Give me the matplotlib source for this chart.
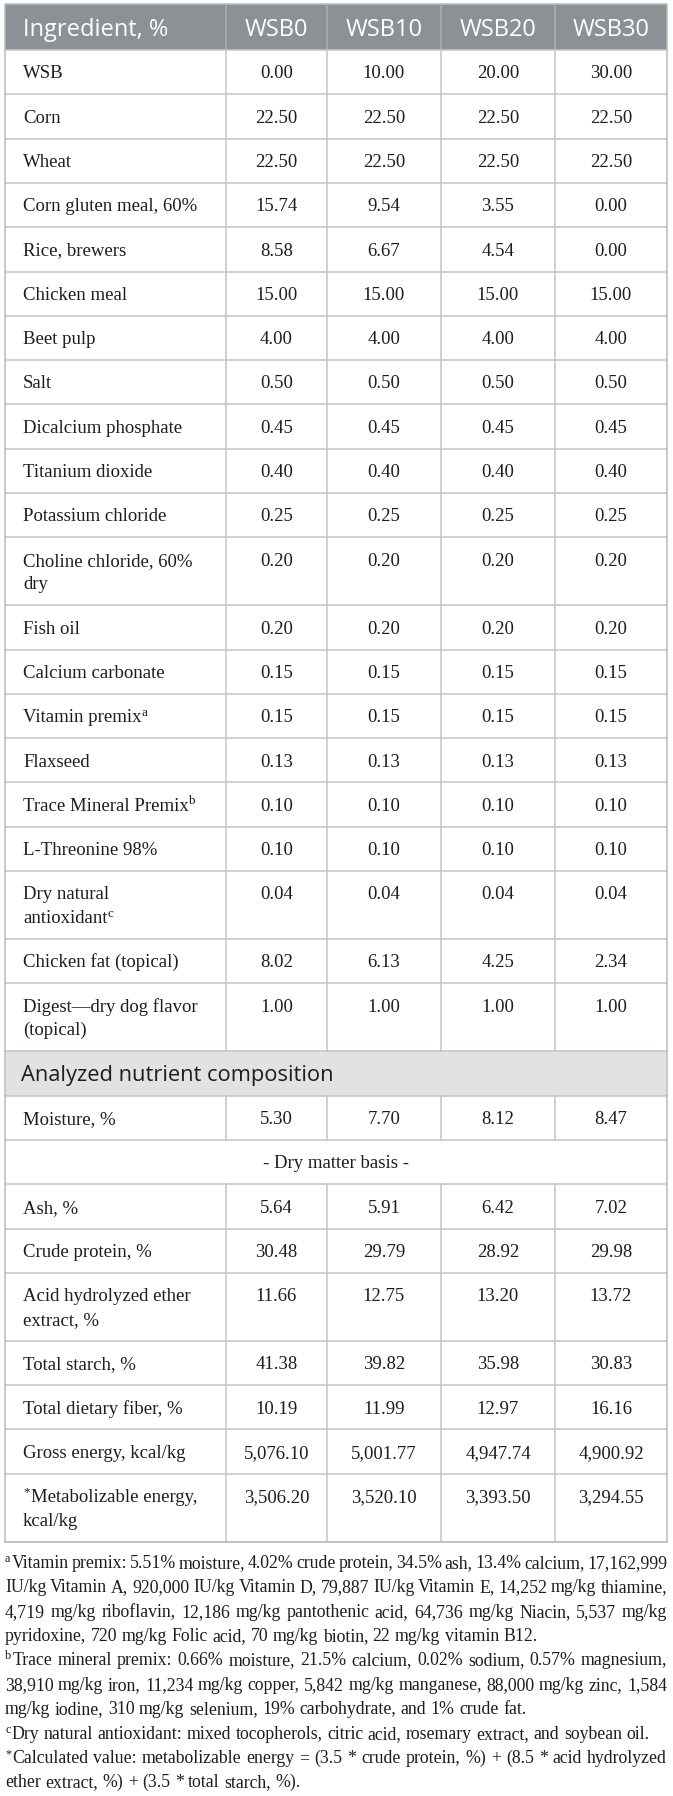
import re
import matplotlib
matplotlib.use("Agg")
import matplotlib.pyplot as plt
from matplotlib.patches import Rectangle

# ---------------- data ----------------
columns = ["WSB0", "WSB10", "WSB20", "WSB30"]
header_label = "Ingredient, %"

ingredients = [
    "WSB", "Corn", "Wheat", "Corn gluten meal, 60%", "Rice, brewers",
    "Chicken meal", "Beet pulp", "Salt", "Dicalcium phosphate",
    "Titanium dioxide", "Potassium chloride", "Choline chloride, 60%\ndry",
    "Fish oil", "Calcium carbonate", "Vitamin premix^{a}", "Flaxseed",
    "Trace Mineral Premix^{b}", "L-Threonine 98%",
    "Dry natural\nantioxidant^{c}", "Chicken fat (topical)",
    "Digest\u2014dry dog flavor\n(topical)",
]
ing_wsb0 = [0.00, 22.50, 22.50, 15.74, 8.58, 15.00, 4.00, 0.50, 0.45, 0.40,
            0.25, 0.20, 0.20, 0.15, 0.15, 0.13, 0.10, 0.10, 0.04, 8.02, 1.00]
ing_wsb10 = [10.00, 22.50, 22.50, 9.54, 6.67, 15.00, 4.00, 0.50, 0.45, 0.40,
             0.25, 0.20, 0.20, 0.15, 0.15, 0.13, 0.10, 0.10, 0.04, 6.13, 1.00]
ing_wsb20 = [20.00, 22.50, 22.50, 3.55, 4.54, 15.00, 4.00, 0.50, 0.45, 0.40,
             0.25, 0.20, 0.20, 0.15, 0.15, 0.13, 0.10, 0.10, 0.04, 4.25, 1.00]
ing_wsb30 = [30.00, 22.50, 22.50, 0.00, 0.00, 15.00, 4.00, 0.50, 0.45, 0.40,
             0.25, 0.20, 0.20, 0.15, 0.15, 0.13, 0.10, 0.10, 0.04, 2.34, 1.00]

section_title = "Analyzed nutrient composition"
moisture_label = "Moisture, %"
moisture_vals = [5.30, 7.70, 8.12, 8.47]
dm_label = "- Dry matter basis -"

nutrients = [
    "Ash, %", "Crude protein, %", "Acid hydrolyzed ether\nextract, %",
    "Total starch, %", "Total dietary fiber, %", "Gross energy, kcal/kg",
    "^{*}Metabolizable energy,\nkcal/kg",
]
nut_wsb0 = [5.64, 30.48, 11.66, 41.38, 10.19, 5076.10, 3506.20]
nut_wsb10 = [5.91, 29.79, 12.75, 39.82, 11.99, 5001.77, 3520.10]
nut_wsb20 = [6.42, 28.92, 13.20, 35.98, 12.97, 4947.74, 3393.50]
nut_wsb30 = [7.02, 29.98, 13.72, 30.83, 16.16, 4900.92, 3294.55]

footnote_lines = [
    ("^{a}Vitamin premix: 5.51% moisture, 4.02% crude protein, 34.5% ash, 13.4% calcium, 17,162,999", True),
    ("IU/kg Vitamin A, 920,000 IU/kg Vitamin D, 79,887 IU/kg Vitamin E, 14,252 mg/kg thiamine,", True),
    ("4,719 mg/kg riboflavin, 12,186 mg/kg pantothenic acid, 64,736 mg/kg Niacin, 5,537 mg/kg", True),
    ("pyridoxine, 720 mg/kg Folic acid, 70 mg/kg biotin, 22 mg/kg vitamin B12.", False),
    ("^{b}Trace mineral premix: 0.66% moisture, 21.5% calcium, 0.02% sodium, 0.57% magnesium,", True),
    ("38,910 mg/kg iron, 11,234 mg/kg copper, 5,842 mg/kg manganese, 88,000 mg/kg zinc, 1,584", True),
    ("mg/kg iodine, 310 mg/kg selenium, 19% carbohydrate, and 1% crude fat.", False),
    ("^{c}Dry natural antioxidant: mixed tocopherols, citric acid, rosemary extract, and soybean oil.", False),
    ("^{*}Calculated value: metabolizable energy = (3.5 * crude protein, %) + (8.5 * acid hydrolyzed", True),
    ("ether extract, %) + (3.5 * total starch, %).", False),
]

# ---------------- style ----------------
W, H = 673, 1796
SERIF = ["Liberation Serif", "DejaVu Serif"]
SANS = ["Open Sans", "DejaVu Sans"]
TXT = "#1d1d1d"
HEAD_BG = "#8b9195"
SEC_BG = "#e1e3e3"
GRID = "#c4c4c4"
SUP_SCALE = 0.7

col_x = [5, 226, 327, 441, 555, 667]
table_top = 4
header_h = 46
row_h = 44.3
line_h = 23.7
pad_x = 18

fig = plt.figure(figsize=(W / 100, H / 100), dpi=100)
ax = fig.add_axes([0, 0, 1, 1])
ax.set_xlim(0, W)
ax.set_ylim(H, 0)
ax.axis("off")
renderer = fig.canvas.get_renderer()


def pieces(s):
    out, i = [], 0
    for m in re.finditer(r"\^\{(.*?)\}", s):
        if m.start() > i:
            out.append((s[i:m.start()], False))
        out.append((m.group(1), True))
        i = m.end()
    if i < len(s):
        out.append((s[i:], False))
    return out


def measure(text, size, family):
    t = ax.text(0, 0, text, fontsize=size, family=family)
    w = t.get_window_extent(renderer).width
    t.remove()
    return w


def rich_width(s, size, family):
    w = 0
    for txt, sup in pieces(s):
        w += measure(txt, size * (SUP_SCALE if sup else 1.0), family) + (1 if sup else 0)
    return w


def fit_size(text, family, target):
    ref = 20.0
    return ref * target / rich_width(text, ref, family)


def draw_rich(x, y, s, size, family, color=TXT, ha="left"):
    total = rich_width(s, size, family)
    if ha == "center":
        x -= total / 2
    px = size / 72 * 100
    for txt, sup in pieces(s):
        sz = size * (SUP_SCALE if sup else 1.0)
        yy = y - 0.34 * px if sup else y
        ax.text(x, yy, txt, fontsize=sz, family=family, color=color,
                ha="left", va="baseline")
        x += measure(txt, sz, family) + (1 if sup else 0)
    return total


def fmt(v):
    return f"{v:,.2f}"


# font sizes calibrated on reference text widths (pixels)
BODY_PT = fit_size("Choline chloride, 60%", SERIF, 169)
HEAD_PT = fit_size(header_label, SANS, 145)
SEC_PT = fit_size(section_title, SANS, 311)
FOOT_PT = fit_size(footnote_lines[7][0], SERIF, 644)

# ---------------- rows ----------------
rows = []
for i, lab in enumerate(ingredients):
    rows.append(("data", lab, [ing_wsb0[i], ing_wsb10[i], ing_wsb20[i], ing_wsb30[i]]))
rows.append(("section", section_title, None))
rows.append(("data", moisture_label, moisture_vals))
rows.append(("span", dm_label, None))
for i, lab in enumerate(nutrients):
    rows.append(("data", lab, [nut_wsb0[i], nut_wsb10[i], nut_wsb20[i], nut_wsb30[i]]))

left, right = col_x[0], col_x[-1]
body_px = BODY_PT / 72 * 100
cap_off = 0.33 * body_px

# header
y0 = table_top
ax.add_patch(Rectangle((left, y0), right - left, header_h, facecolor=HEAD_BG,
                       edgecolor="none", zorder=1))
for cx in col_x[1:-1]:
    ax.plot([cx, cx], [y0, y0 + header_h], color="#a9aeb1", lw=1.1, zorder=2)
head_base = y0 + header_h / 2 + 0.36 * HEAD_PT / 72 * 100
ax.text(left + pad_x, head_base, header_label, fontsize=HEAD_PT, family=SANS,
        color="white", ha="left", va="baseline", zorder=3)
for j, c in enumerate(columns):
    ax.text((col_x[j + 1] + col_x[j + 2]) / 2, head_base, c, fontsize=HEAD_PT,
            family=SANS, color="white", ha="center", va="baseline", zorder=3)

y = y0 + header_h
hlines = [y]
for kind, label, vals in rows:
    nlines = label.count("\n") + 1
    h = row_h + line_h * (nlines - 1)
    first_base = y + row_h / 2 + cap_off
    if kind == "section":
        ax.add_patch(Rectangle((left, y), right - left, h, facecolor=SEC_BG,
                               edgecolor="none", zorder=1))
        ax.text(left + pad_x - 2, y + h / 2 + 0.36 * SEC_PT / 72 * 100, label,
                fontsize=SEC_PT, family=SANS, color=TXT, ha="left",
                va="baseline", zorder=3)
    elif kind == "span":
        draw_rich((left + right) / 2, first_base, label, BODY_PT, SERIF, ha="center")
    else:
        for cx in col_x[1:-1]:
            ax.plot([cx, cx], [y, y + h], color=GRID, lw=1.1, zorder=2)
        for k, ln in enumerate(label.split("\n")):
            draw_rich(left + pad_x, first_base + k * line_h, ln, BODY_PT, SERIF)
        for j, v in enumerate(vals):
            ax.text((col_x[j + 1] + col_x[j + 2]) / 2, first_base, fmt(v),
                    fontsize=BODY_PT, family=SERIF, color=TXT, ha="center",
                    va="baseline", zorder=3)
    y += h
    hlines.append(y)

for hy in hlines:
    ax.plot([left, right], [hy, hy], color=GRID, lw=1.1, zorder=2)
ax.add_patch(Rectangle((left, table_top), right - left, y - table_top,
                       facecolor="none", edgecolor="#bcbcbc", lw=1.1, zorder=4))

# ---------------- footnotes ----------------
foot_base = y + 26
foot_pitch = 24.4
avail = right - left
space_w = measure("a b", FOOT_PT, SERIF) - measure("ab", FOOT_PT, SERIF)
for i, (line, justify) in enumerate(footnote_lines):
    by = foot_base + i * foot_pitch
    words = line.split(" ")
    widths = [rich_width(w, FOOT_PT, SERIF) for w in words]
    if justify and len(words) > 1:
        gap = (avail - sum(widths)) / (len(words) - 1)
    else:
        gap = space_w
    x = left
    for w, wd in zip(words, widths):
        draw_rich(x, by, w, FOOT_PT, SERIF)
        x += wd + gap

fig.savefig("out.png", dpi=100, facecolor="white")
